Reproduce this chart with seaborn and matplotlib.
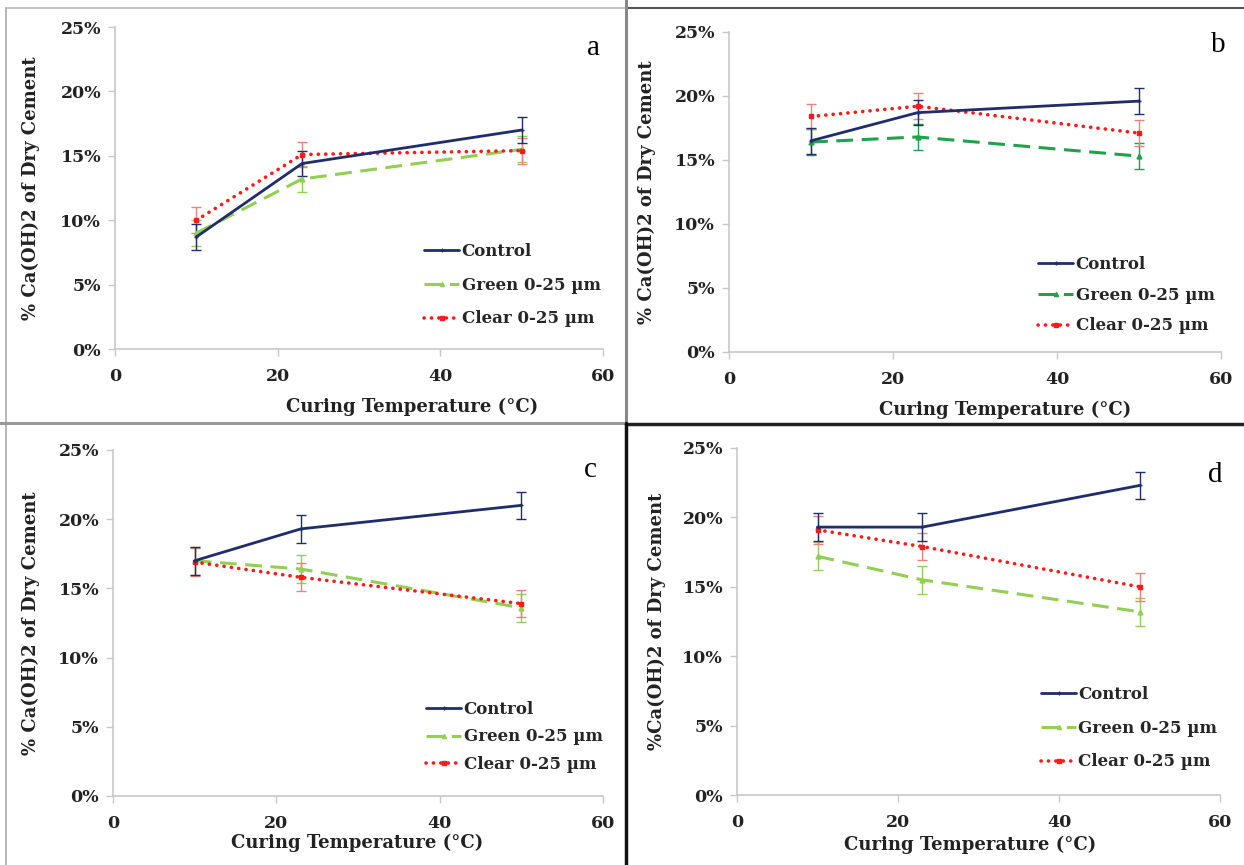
import numpy as np
import pandas as pd
import matplotlib
matplotlib.use("Agg")
import matplotlib.pyplot as plt
from matplotlib.lines import Line2D
from matplotlib.ticker import FuncFormatter, FixedLocator
import seaborn as sns

sns.set_theme(style="white")
plt.rcParams['font.family'] = ['DejaVu Serif']

# ---------------- data ----------------
temperatures = [10, 23, 50]
series_names = ["Control", "Green 0-25 µm", "Clear 0-25 µm"]
panel_letters = ["a", "b", "c", "d"]

a_control = [0.087, 0.144, 0.170]
a_green = [0.090, 0.132, 0.155]
a_clear = [0.100, 0.151, 0.154]

b_control = [0.165, 0.187, 0.196]
b_green = [0.164, 0.168, 0.153]
b_clear = [0.184, 0.192, 0.171]

c_control = [0.170, 0.193, 0.210]
c_green = [0.170, 0.164, 0.136]
c_clear = [0.169, 0.158, 0.139]

d_control = [0.193, 0.193, 0.223]
d_green = [0.172, 0.155, 0.132]
d_clear = [0.191, 0.179, 0.150]

error = [0.010, 0.010, 0.010]

x_ticks = [0, 20, 40, 60]
y_ticks = [0.0, 0.05, 0.10, 0.15, 0.20, 0.25]
xlabel = "Curing Temperature (°C)"
ylabels = ["% Ca(OH)2 of Dry Cement", "% Ca(OH)2 of Dry Cement",
           "% Ca(OH)2 of Dry Cement", "%Ca(OH)2 of Dry Cement"]

panels = [
    (a_control, a_green, a_clear),
    (b_control, b_green, b_clear),
    (c_control, c_green, c_clear),
    (d_control, d_green, d_clear),
]

# ---------------- style / layout ----------------
W, H = 1244, 865
fig = plt.figure(figsize=(W / 100, H / 100), dpi=100)

def fx(px):
    return px / W

def fy(py):
    return 1 - py / H

# axes boxes in pixel coords: left, right, top, bottom
boxes = [
    (115, 603, 27, 349),
    (729, 1221, 32, 352),
    (113, 603, 450, 796),
    (737, 1220, 448, 795),
]
navy = "#1F2D6B"
green_light = "#92D050"
green_dark = "#1EA24A"
red = "#FF1A1A"
green_colors = [green_light, green_dark, green_light, green_light]

xlabel_centers = [412, 1005, 357, 970]   # pixel x center of xlabel
xlabel_top = [398, 401, 834, 836]
ylabel_right = [40, 656, 40, 666]
letter_pos = [(593, 48), (1218, 45), (590, 470), (1215, 475)]
legend_pos = [(424, 243), (1038, 256), (426, 701), (1041, 686)]  # upper-left pixel
legend_spacing = [1.0, 0.82, 0.62, 1.0]

dot_ls = (0, (0.05, 2.0))
dash_ls = (0, (5.5, 2.8))

label_font = dict(family="DejaVu Serif", weight="bold", size=13)

for i, (ctrl, grn, clr) in enumerate(panels):
    l, r, t, b = boxes[i]
    ax = fig.add_axes([fx(l), fy(b), fx(r) - fx(l), fy(t) - fy(b)])

    df = pd.DataFrame({
        "Temperature": temperatures * 3,
        "Value": list(ctrl) + list(grn) + list(clr),
        "Series": [series_names[0]] * 3 + [series_names[1]] * 3 + [series_names[2]] * 3,
    })

    styles = {
        series_names[0]: dict(color=navy, ls="-", marker="+", lw=2.0),
        series_names[1]: dict(color=green_colors[i], ls=dash_ls, marker="^", lw=2.2),
        series_names[2]: dict(color=red, ls=dot_ls, marker="s", lw=2.6),
    }
    ecolors = {series_names[0]: navy,
               series_names[1]: green_colors[i],
               series_names[2]: "#F08080"}

    for name in [series_names[1], series_names[2], series_names[0]]:
        sub = df[df["Series"] == name]
        st = styles[name]
        ax.errorbar(sub["Temperature"], sub["Value"], yerr=error, fmt="none",
                    ecolor=ecolors[name], elinewidth=1.0, capsize=3.5, capthick=1.0,
                    zorder=2)
        sns.lineplot(data=sub, x="Temperature", y="Value", ax=ax, color=st["color"],
                     linestyle=st["ls"], linewidth=st["lw"], marker=st["marker"],
                     markersize=3.5, markeredgewidth=1, markeredgecolor=st["color"],
                     errorbar=None, legend=False, zorder=3,
                     dash_capstyle="round" if name == series_names[2] else "butt")

    ax.set_xlim(0, 60)
    ax.set_ylim(0, 0.25)
    ax.xaxis.set_major_locator(FixedLocator(x_ticks))
    ax.yaxis.set_major_locator(FixedLocator(y_ticks))
    ax.yaxis.set_major_formatter(FuncFormatter(lambda v, p: f"{v * 100:.0f}%"))
    for sp in ["top", "right"]:
        ax.spines[sp].set_visible(False)
    for sp in ["left", "bottom"]:
        ax.spines[sp].set_color("#C8C8C8")
        ax.spines[sp].set_linewidth(1.2)
    ax.tick_params(axis="both", which="major", direction="out", length=5, width=1,
                   color="#C8C8C8", pad=5, bottom=True, left=True)
    for lab in ax.get_xticklabels() + ax.get_yticklabels():
        lab.set_fontfamily("DejaVu Serif")
        lab.set_fontweight("bold")
        lab.set_fontsize(12.5)
        lab.set_color("#222222")
    ax.tick_params(axis="x", pad=9)
    ax.set_xlabel(xlabel, **label_font, color="#222222")
    ax.set_ylabel(ylabels[i], **label_font, color="#222222")
    ax.xaxis.set_label_coords((xlabel_centers[i] - l) / (r - l), (b - xlabel_top[i]) / (b - t))
    ax.yaxis.set_label_coords((ylabel_right[i] - l) / (r - l), 0.5)
    ax.set_facecolor("white")

    handles = [
        Line2D([], [], color=navy, ls="-", lw=2.0, marker="+", markersize=3.5),
        Line2D([], [], color=green_colors[i], ls=dash_ls, lw=2.2, marker="^", markersize=3),
        Line2D([], [], color=red, ls=dot_ls, lw=2.6, marker="s", markersize=3,
               dash_capstyle="round"),
    ]
    lx, ly = legend_pos[i]
    fig.legend(handles, series_names, loc="upper left",
               bbox_to_anchor=(fx(lx), fy(ly)), frameon=False,
               prop=dict(family="DejaVu Serif", weight="bold", size=12),
               handlelength=2.1, handletextpad=0.15, labelspacing=legend_spacing[i],
               borderpad=0, borderaxespad=0)

    px, py = letter_pos[i]
    fig.text(fx(px), fy(py), panel_letters[i], fontsize=21, family="Liberation Serif",
             ha="center", va="center", color="black")

# panel borders
def hline(y, x0, x1, color, lw):
    fig.add_artist(Line2D([fx(x0), fx(x1)], [fy(y), fy(y)], color=color, lw=lw,
                          transform=fig.transFigure))

def vline(x, y0, y1, color, lw):
    fig.add_artist(Line2D([fx(x), fx(x)], [fy(y0), fy(y1)], color=color, lw=lw,
                          transform=fig.transFigure))

hline(8, 6, 626, "#BBBBBB", 1.2)
vline(6, 8, 865, "#AAAAAA", 1.2)
hline(8, 626, 1244, "#555555", 1.5)
vline(626, 0, 423, "#888888", 2.2)
hline(423, 0, 626, "#999999", 2.2)
hline(424, 626, 1244, "#222222", 2.5)
vline(626, 423, 865, "#111111", 2.5)

fig.savefig("out.png", dpi=100, facecolor="white")
